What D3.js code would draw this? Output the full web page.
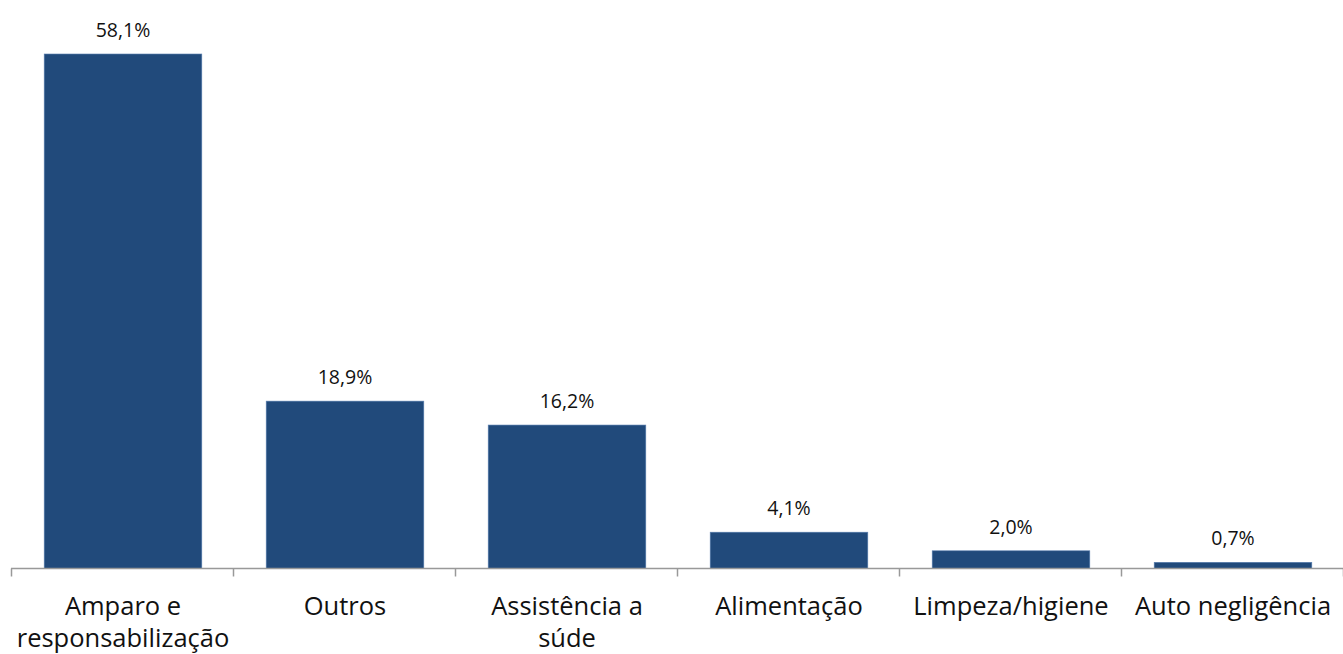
<!DOCTYPE html>
<html>
<head>
<meta charset="utf-8">
<script src="https://cdn.jsdelivr.net/npm/d3@7"></script>
<style>
html,body{margin:0;padding:0;background:#fff;}
svg{display:block;}
</style>
</head>
<body>
<svg id="chart" width="1343" height="654"></svg>
<script>
const categories = ["Amparo e responsabilização","Outros","Assistência a súde","Alimentação","Limpeza/higiene","Auto negligência"];
const tickLabels = [["Amparo e","responsabilização"],["Outros"],["Assistência a","súde"],["Alimentação"],["Limpeza/higiene"],["Auto negligência"]];
const values = [58.1, 18.9, 16.2, 4.1, 2.0, 0.7];
const valueLabels = ["58,1%","18,9%","16,2%","4,1%","2,0%","0,7%"];

const svg = d3.select("#chart");
const axisY = 568.5;
const x = d3.scaleBand().domain(categories).range([12, 1344]).paddingInner(0.29).paddingOuter(0.145);
const y = d3.scaleLinear().domain([0, 58.1]).range([axisY, 54]);

svg.selectAll("rect.bar").data(values).enter().append("rect")
  .attr("class","bar")
  .attr("x",(d,i)=>x(categories[i]))
  .attr("width",x.bandwidth())
  .attr("y",d=>y(d))
  .attr("height",d=>axisY - y(d))
  .attr("fill","#214a7b")
  .attr("stroke","#5a7fb0")
  .attr("stroke-width",0.6);

svg.selectAll("text.val").data(values).enter().append("text")
  .attr("class","val")
  .attr("x",(d,i)=>x(categories[i]) + x.bandwidth()/2)
  .attr("y",d=>y(d) - 17)
  .attr("text-anchor","middle")
  .attr("font-family","'Open Sans', sans-serif")
  .attr("font-size",19.5)
  .attr("fill","#111")
  .text((d,i)=>valueLabels[i]);

// axis
const g = svg.append("g").attr("transform",`translate(0,${axisY})`);
const axis = d3.axisBottom(x).tickSize(0).tickFormat("");
g.call(axis);
g.select(".domain").attr("stroke","#999").attr("stroke-width",1.5).attr("d","M11,0H1343");
const bounds = categories.map(c=>x(c) - x.step()*x.paddingInner()/2 - 1);
bounds.push(1342.5);
g.selectAll("line.sep").data(bounds).enter().append("line")
  .attr("class","sep")
  .attr("x1",d=>Math.round(d)+0.5).attr("x2",d=>Math.round(d)+0.5)
  .attr("y1",0).attr("y2",8)
  .attr("stroke","#999").attr("stroke-width",1.5);

const lab = svg.append("g");
categories.forEach((c,i)=>{
  const t = lab.append("text")
    .attr("x", x(c) + x.bandwidth()/2)
    .attr("y", 615)
    .attr("text-anchor","middle")
    .attr("font-family","'Open Sans', sans-serif")
    .attr("font-size",25.5)
    .attr("fill","#111");
  tickLabels[i].forEach((line,j)=>{
    t.append("tspan").attr("x", x(c) + x.bandwidth()/2).attr("dy", j===0?0:32).text(line);
  });
});
</script>
</body>
</html>
